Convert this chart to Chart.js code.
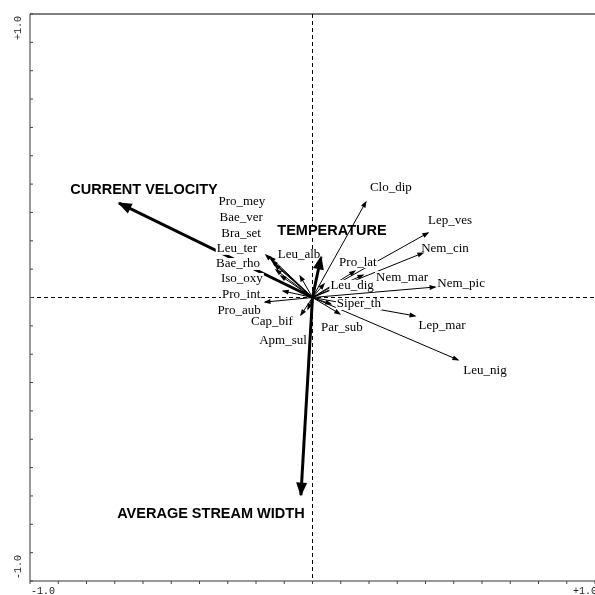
<!DOCTYPE html>
<html>
<head>
<meta charset="utf-8">
<title>CCA biplot</title>
<script src="https://cdn.jsdelivr.net/npm/chart.js@4.4.0/dist/chart.umd.min.js"></script>
<style>
  html, body { margin: 0; padding: 0; background: #fff; }
  #biplot { display: block; }
</style>
</head>
<body>
<canvas id="biplot" width="595" height="595"></canvas>
<script>
/* species scores (arrow tips) */
var speciesNames = ["Clo_dip", "Lep_ves", "Nem_cin", "Nem_pic", "Nem_mar", "Pro_lat", "Leu_dig",
                    "Siper_th", "Par_sub", "Lep_mar", "Leu_nig", "Apm_sul", "Cap_bif", "Pro_aub",
                    "Pro_int", "Iso_oxy", "Bae_rho", "Leu_ter", "Bra_set", "Bae_ver", "Pro_mey", "Leu_alb"];
var speciesX = [0.189, 0.409, 0.391, 0.434, 0.179, 0.150, 0.041,
                0.065, 0.097, 0.363, 0.515, -0.016, -0.041, -0.168,
                -0.104, -0.112, -0.129, -0.133, -0.143, -0.150, -0.165, -0.044];
var speciesY = [0.337, 0.228, 0.157, 0.037, 0.079, 0.093, 0.048,
                -0.023, -0.058, -0.065, -0.220, -0.041, -0.062, -0.016,
                0.023, 0.076, 0.097, 0.115, 0.129, 0.143, 0.150, 0.076];

/* environmental variables */
var envNames = ["CURRENT VELOCITY", "TEMPERATURE", "AVERAGE STREAM WIDTH"];
var envX = [-0.685, 0.030, -0.041];
var envY = [0.333, 0.143, -0.697];

/* axes */
var axisMin = -1.0, axisMax = 1.0, tickStep = 0.1;
var axisMinLabel = "-1.0", axisMaxLabel = "+1.0";

/* where each label sits, in px from its arrow tip */
var speciesLabelOffset = [[25, -14], [22, -12], [22, -4], [26, -3], [39, 2], [3, -9], [28, 2],
                          [28, 0], [2, 14], [27, 10], [27, 11], [-25, 31], [-29, 7], [-26, 9],
                          [-42, 4], [-39, 3], [-38, -6], [-38, -16], [-31, -27], [-29, -39], [-24, -53], [-1, -21]];
var envLabelOffset = [[25, -13], [11, -26], [-90, 19]];

var speciesFont = "13px 'Liberation Serif', 'Times New Roman', serif";
var envFont = "bold 14.5px 'Liberation Sans', Arial, sans-serif";
var tickFont = "10px 'Liberation Mono', 'Courier New', monospace";

function arrowDataset(x, y, kind, name) {
    return {
        kind: kind,
        name: name,
        data: [{ x: 0, y: 0 }, { x: x, y: y }],
        showLine: true,
        borderColor: "#000",
        borderWidth: kind === "env" ? 3 : 1,
        pointRadius: 0,
        fill: false
    };
}

// text on a white box, so lines behind it are cut like in CANOCO
function labelBox(ctx, text, cx, cy, font) {
    ctx.font = font;
    var w = ctx.measureText(text).width;
    ctx.fillStyle = "#fff";
    ctx.fillRect(cx - w / 2 - 1, cy - 6, w + 2, 12);
    ctx.fillStyle = "#000";
    ctx.textAlign = "center";
    ctx.textBaseline = "middle";
    ctx.fillText(text, cx, cy);
}

function arrowHead(ctx, x0, y0, x1, y1, len, half) {
    var a = Math.atan2(y1 - y0, x1 - x0);
    var tx = x1 + Math.cos(a) * 1.5, ty = y1 + Math.sin(a) * 1.5;
    ctx.beginPath();
    ctx.moveTo(tx, ty);
    ctx.lineTo(tx - len * Math.cos(a) + half * Math.sin(a), ty - len * Math.sin(a) - half * Math.cos(a));
    ctx.lineTo(tx - len * Math.cos(a) - half * Math.sin(a), ty - len * Math.sin(a) + half * Math.cos(a));
    ctx.closePath();
    ctx.fill();
}

var biplotDecor = {
    id: "biplotDecor",
    beforeDatasetsDraw: function (chart) {
        var ctx = chart.ctx, xs = chart.scales.x, ys = chart.scales.y, area = chart.chartArea;
        ctx.save();

        // dashed zero lines
        ctx.strokeStyle = "#000";
        ctx.lineWidth = 1;
        ctx.setLineDash([4, 3]);
        ctx.beginPath();
        ctx.moveTo(xs.getPixelForValue(0), area.top);
        ctx.lineTo(xs.getPixelForValue(0), area.bottom);
        ctx.moveTo(area.left, ys.getPixelForValue(0));
        ctx.lineTo(area.right, ys.getPixelForValue(0));
        ctx.stroke();
        ctx.setLineDash([]);

        // frame: left, bottom, top
        ctx.strokeStyle = "#333";
        ctx.beginPath();
        ctx.moveTo(area.left, area.top);
        ctx.lineTo(area.left, area.bottom);
        ctx.lineTo(area.right, area.bottom);
        ctx.stroke();
        ctx.strokeStyle = "#000";
        ctx.beginPath();
        ctx.moveTo(area.left, area.top);
        ctx.lineTo(area.right + 2, area.top);
        ctx.stroke();

        // ticks every 0.1
        ctx.strokeStyle = "#444";
        ctx.beginPath();
        for (var i = 0; i <= Math.round((axisMax - axisMin) / tickStep); i++) {
            var v = axisMin + i * tickStep;
            var py = ys.getPixelForValue(v), px = xs.getPixelForValue(v);
            ctx.moveTo(area.left, py);
            ctx.lineTo(area.left + 3, py);
            ctx.moveTo(px, area.bottom);
            ctx.lineTo(px, area.bottom + 3);
        }
        ctx.stroke();

        // tick labels
        ctx.fillStyle = "#222";
        ctx.font = tickFont;
        ctx.textAlign = "center";
        ctx.textBaseline = "middle";
        ctx.fillText(axisMinLabel, xs.getPixelForValue(axisMin) + 13, area.bottom + 10);
        ctx.fillText(axisMaxLabel, xs.getPixelForValue(axisMax) - 10, area.bottom + 10);
        var yl = [[axisMax, axisMaxLabel, 14], [axisMin, axisMinLabel, -14]];
        for (var k = 0; k < yl.length; k++) {
            ctx.save();
            ctx.translate(area.left - 12, ys.getPixelForValue(yl[k][0]) + yl[k][2]);
            ctx.rotate(-Math.PI / 2);
            ctx.fillText(yl[k][1], 0, 0);
            ctx.restore();
        }

        // environmental labels (boxed, under the arrows)
        for (var e = 0; e < envNames.length; e++) {
            labelBox(ctx, envNames[e],
                xs.getPixelForValue(envX[e]) + envLabelOffset[e][0],
                ys.getPixelForValue(envY[e]) + envLabelOffset[e][1], envFont);
        }
        ctx.restore();
    },
    afterDatasetsDraw: function (chart) {
        var ctx = chart.ctx;
        ctx.save();

        // species labels, boxed over the lines
        chart.data.datasets.forEach(function (ds, i) {
            if (ds.kind !== "species") return;
            var tip = chart.getDatasetMeta(i).data[1];
            var j = speciesNames.indexOf(ds.name);
            labelBox(ctx, ds.name, tip.x + speciesLabelOffset[j][0], tip.y + speciesLabelOffset[j][1], speciesFont);
        });

        // arrow heads
        ctx.fillStyle = "#000";
        chart.data.datasets.forEach(function (ds, i) {
            var pts = chart.getDatasetMeta(i).data;
            if (ds.kind === "env") {
                arrowHead(ctx, pts[0].x, pts[0].y, pts[1].x, pts[1].y, 14, 5.5);
            } else {
                arrowHead(ctx, pts[0].x, pts[0].y, pts[1].x, pts[1].y, 7, 2.5);
            }
        });
        ctx.restore();
    }
};

var datasets = [];
for (var e = 0; e < envNames.length; e++) {
    datasets.push(arrowDataset(envX[e], envY[e], "env", envNames[e]));
}
for (var s = 0; s < speciesNames.length; s++) {
    datasets.push(arrowDataset(speciesX[s], speciesY[s], "species", speciesNames[s]));
}

var biplot = new Chart(document.getElementById("biplot"), {
    type: "scatter",
    data: { datasets: datasets },
    options: {
        responsive: false,
        animation: false,
        devicePixelRatio: 1,
        events: [],
        layout: { padding: { left: 30, top: 14, right: 0, bottom: 14 } },
        plugins: {
            legend: { display: false },
            tooltip: { enabled: false }
        },
        scales: {
            x: { type: "linear", min: axisMin, max: axisMax, display: false },
            y: { type: "linear", min: axisMin, max: axisMax, display: false }
        }
    },
    plugins: [biplotDecor]
});
</script>
</body>
</html>
